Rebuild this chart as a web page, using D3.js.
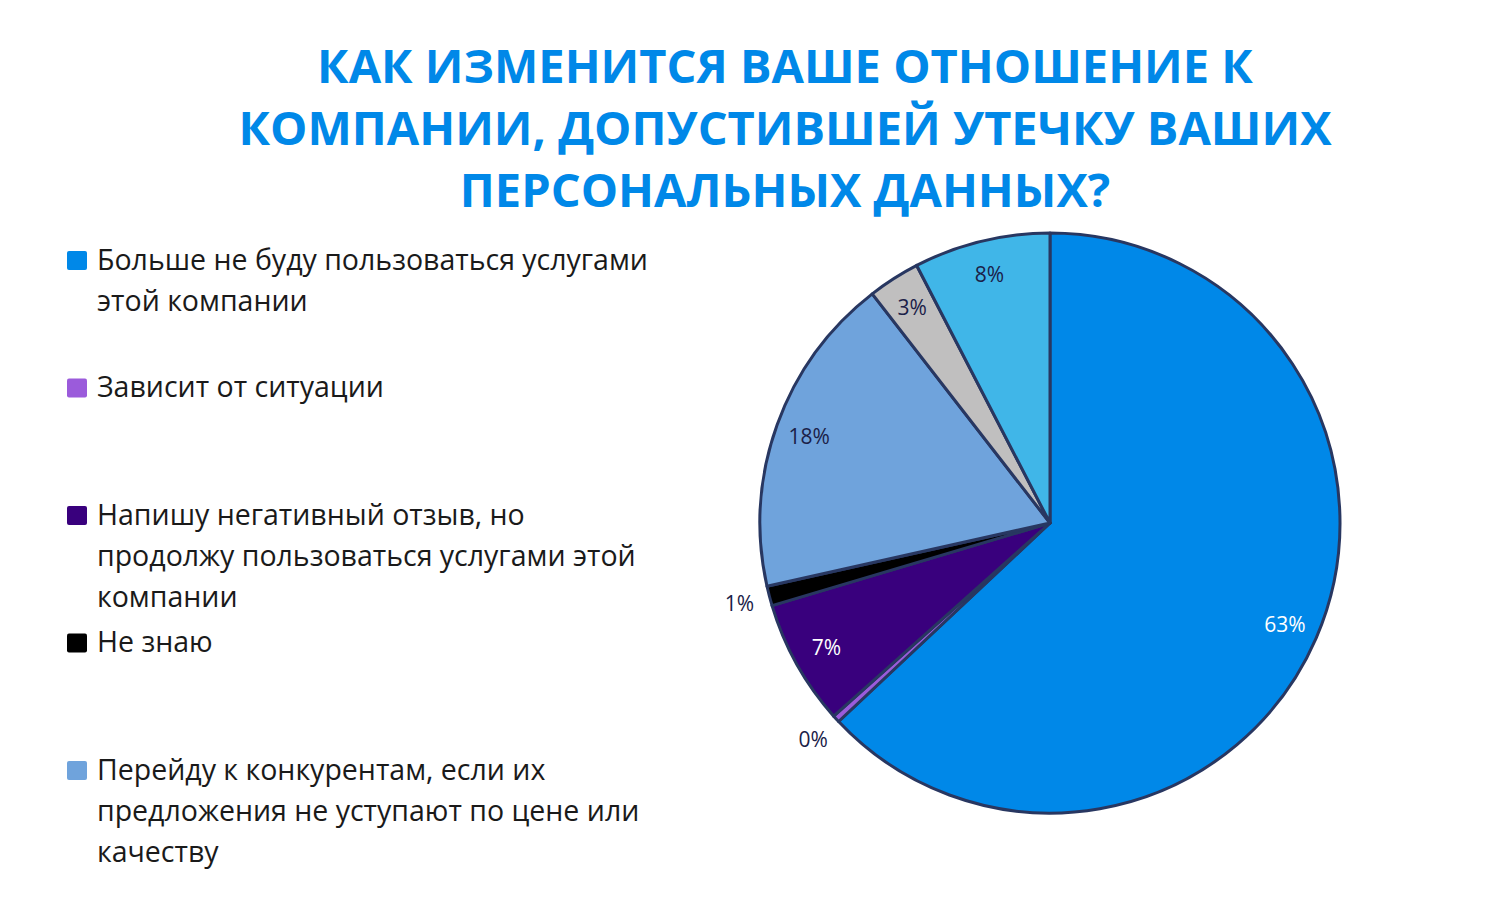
<!DOCTYPE html>
<html>
<head>
<meta charset="utf-8">
<script src="https://cdn.jsdelivr.net/npm/d3@7"></script>
<style>
  body { margin: 0; background: #fff; }
  svg { display: block; }
</style>
</head>
<body>
<div id="chart"></div>
<script>
// chart data
var categories = [
  "Больше не буду пользоваться услугами этой компании",
  "Зависит от ситуации",
  "Напишу негативный отзыв, но продолжу пользоваться услугами этой компании",
  "Не знаю",
  "Перейду к конкурентам, если их предложения не уступают по цене или качеству",
  "Другое",
  "Затрудняюсь ответить"
];
var values = [63.0, 0.4, 7.0, 1.1, 18.0, 2.9, 7.6];
var labels = ["63%", "0%", "7%", "1%", "18%", "3%", "8%"];
var colors = ["#0088e8", "#9b5bdb", "#39007d", "#000000", "#6fa3dc", "#c0bfbf", "#40b6e8"];
var titleLines = [
  "КАК ИЗМЕНИТСЯ ВАШЕ ОТНОШЕНИЕ К",
  "КОМПАНИИ, ДОПУСТИВШЕЙ УТЕЧКУ ВАШИХ",
  "ПЕРСОНАЛЬНЫХ ДАННЫХ?"
];
var legendCount = 5; // only first page of legend is visible

var width = 1500, height = 914;
var cx = 1050, cy = 523, radius = 290;

var svg = d3.select("#chart")
  .append("svg")
    .attr("width", width)
    .attr("height", height);

// title
svg.append("g")
  .selectAll("text")
  .data(titleLines)
  .enter()
  .append("text")
    .attr("x", 785)
    .attr("y", (d, i) => 83 + i * 62)
    .attr("text-anchor", "middle")
    .style("font-family", "'Open Sans', sans-serif")
    .style("font-weight", "bold")
    .style("font-size", "47px")
    .style("fill", "#0088e8")
    .text(d => d);

// pie
var pie = d3.pie().sort(null).value(d => d);
var arcs = pie(values);
var arc = d3.arc().innerRadius(0).outerRadius(radius);
var labelArcIn = d3.arc().innerRadius(256).outerRadius(256);
var labelArcOut = d3.arc().innerRadius(321).outerRadius(321);

var g = svg.append("g")
  .attr("transform", "translate(" + cx + "," + cy + ")");

g.selectAll("path")
  .data(arcs)
  .enter()
  .append("path")
    .attr("d", arc)
    .style("fill", (d, i) => colors[i])
    .style("stroke", "#283761")
    .style("stroke-width", 3)
    .style("stroke-linejoin", "round");

// labels: small slices go outside
function isOutside(i) { return values[i] < 2; }

g.selectAll("text.lbl")
  .data(arcs)
  .enter()
  .append("text")
    .attr("class", "lbl")
    .attr("transform", (d, i) => "translate(" + (isOutside(i) ? labelArcOut : labelArcIn).centroid(d) + ")")
    .attr("text-anchor", "middle")
    .attr("dy", "0.35em")
    .style("font-family", "'Open Sans', sans-serif")
    .style("font-size", "21px")
    .style("fill", (d, i) => (i === 0 || i === 2) ? "#ffffff" : "#1b2148")
    .text((d, i) => labels[i]);

// legend
var legend = svg.append("g");
var maxW = 565;

var items = legend.selectAll("g.item")
  .data(categories.slice(0, legendCount))
  .enter()
  .append("g")
    .attr("class", "item")
    .attr("transform", (d, i) => "translate(67," + (260 + i * 127.5) + ")");

items.append("rect")
  .attr("x", 0)
  .attr("y", -9)
  .attr("width", 20)
  .attr("height", 19)
  .attr("rx", 2)
  .style("fill", (d, i) => colors[i]);

items.each(function(d) {
  var text = d3.select(this).append("text")
    .attr("x", 30)
    .attr("y", 0)
    .style("font-family", "'Open Sans', sans-serif")
    .style("font-size", "28.5px")
    .style("fill", "#1a1a1a");
  var words = d.split(" "), line = [], lineNo = 0;
  var tspan = text.append("tspan").attr("x", 30).attr("dy", "0.35em");
  words.forEach(function(w) {
    line.push(w);
    tspan.text(line.join(" "));
    if (tspan.node().getComputedTextLength() > maxW && line.length > 1) {
      line.pop();
      tspan.text(line.join(" "));
      line = [w];
      lineNo++;
      tspan = text.append("tspan").attr("x", 30).attr("y", lineNo * 41).attr("dy", "0.35em").text(w);
    }
  });
});
</script>
</body>
</html>
